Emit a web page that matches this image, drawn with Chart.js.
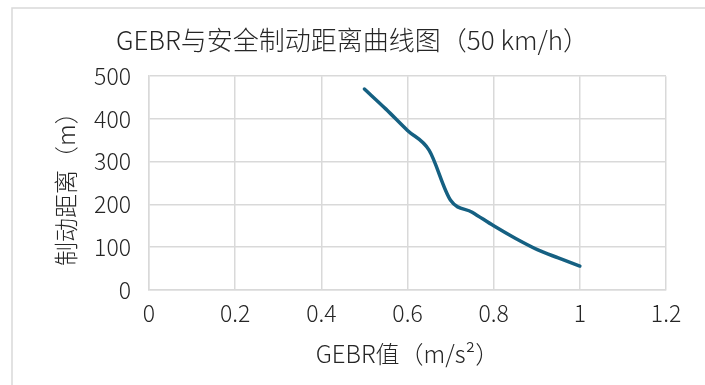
<!DOCTYPE html>
<html>
<head>
<meta charset="utf-8">
<script src="https://cdn.jsdelivr.net/npm/chart.js@4"></script>
<style>
  html, body { margin: 0; padding: 0; background: #fff; }
  #wrap { width: 705px; height: 385px; }
</style>
</head>
<body>
<div id="wrap"><canvas id="chart" width="705" height="385"></canvas></div>
<script>
// 数据 (GEBR 值 m/s², 制动距离 m)
const gebr = [0.5, 0.55, 0.6, 0.65, 0.7, 0.75, 0.8, 0.85, 0.9, 0.95, 1.0];
const distance = [470, 423, 373, 327, 210, 182, 150, 121, 95, 75, 56];

const xTickValues = [0, 0.2, 0.4, 0.6, 0.8, 1.0, 1.2];
const yTickValues = [0, 100, 200, 300, 400, 500];

const chartTitle = 'GEBR与安全制动距离曲线图（50 km/h）';
const xTitle = 'GEBR值（m/s²）';
const yTitle = '制动距离（m）';

const FONT = "'Noto Sans CJK SC', 'Noto Sans', sans-serif";
const gridColor = '#d9d9d9';

// 外框 (Excel 图表区边框)
const frame = {
  id: 'frame',
  beforeDraw(chart) {
    const c = chart.ctx;
    c.save();
    c.fillStyle = '#fff';
    c.fillRect(0, 0, chart.width, chart.height);
    c.strokeStyle = '#d9d9d9';
    c.lineWidth = 1.5;
    c.strokeRect(12, 8, 800, 500);
    c.restore();
  }
};

const points = gebr.map((x, i) => ({ x: x, y: distance[i] }));

new Chart(document.getElementById('chart'), {
  type: 'scatter',
  data: {
    datasets: [{
      data: points,
      showLine: true,
      borderColor: '#156082',
      borderWidth: 3.5,
      pointRadius: 0,
      cubicInterpolationMode: 'monotone',
      borderCapStyle: 'round'
    }]
  },
  options: {
    responsive: false,
    animation: false,
    devicePixelRatio: 1,
    layout: { padding: { left: 39, right: 39, top: 0, bottom: 0 } },
    plugins: {
      legend: { display: false },
      tooltip: { enabled: false },
      title: {
        display: true,
        text: chartTitle,
        color: '#262626',
        font: { family: FONT, size: 26, weight: 300 },
        padding: { top: 25, bottom: 20 }
      }
    },
    scales: {
      x: {
        type: 'linear',
        min: 0,
        max: 1.2,
        afterFit(scale) { scale.height = 95; },
        afterBuildTicks(scale) { scale.ticks = xTickValues.map(v => ({ value: v })); },
        ticks: {
          color: '#262626',
          font: { family: FONT, size: 23, weight: 300 },
          padding: 9,
          maxRotation: 0,
          callback: v => String(Math.round(v * 10) / 10)
        },
        grid: { color: gridColor, lineWidth: 1.5, drawTicks: false },
        border: { color: gridColor, width: 1.5 },
        title: {
          display: true,
          text: xTitle,
          color: '#262626',
          font: { family: FONT, size: 24, weight: 300 },
          padding: { top: 0, bottom: 17 }
        }
      },
      y: {
        type: 'linear',
        min: 0,
        max: 500,
        afterFit(scale) { scale.width = 110; },
        afterBuildTicks(scale) { scale.ticks = yTickValues.map(v => ({ value: v })); },
        ticks: {
          color: '#262626',
          font: { family: FONT, size: 23, weight: 300 },
          padding: 18
        },
        grid: { color: gridColor, lineWidth: 1.5, drawTicks: false },
        border: { color: gridColor, width: 1.5 },
        title: {
          display: true,
          text: yTitle,
          color: '#262626',
          font: { family: FONT, size: 24, weight: 300 },
          padding: { top: 12, bottom: 0 }
        }
      }
    }
  },
  plugins: [frame]
});
</script>
</body>
</html>
